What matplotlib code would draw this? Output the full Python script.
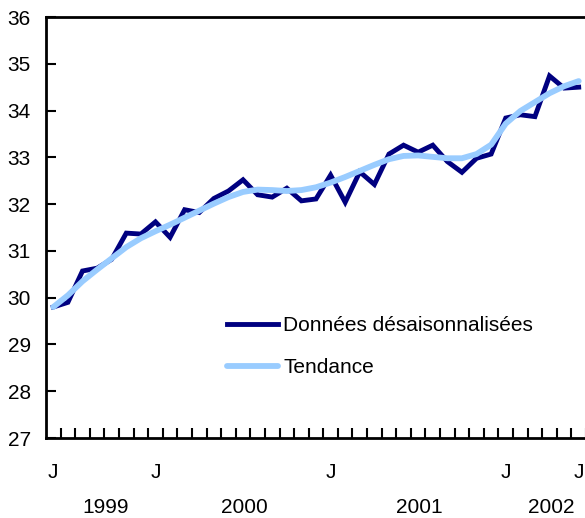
import matplotlib
matplotlib.use("Agg")
import matplotlib.pyplot as plt
import numpy as np

plt.rcParams["font.family"] = ["Liberation Sans", "DejaVu Sans"]

# ---- Donnees (juin 1999 a juin 2002) ----------------------------------------
years = [1999] * 7 + [2000] * 12 + [2001] * 12 + [2002] * 6
month_labels = ["J", "", "", "", "", "", "", "J", "", "", "", "", "",
                "", "", "", "", "", "", "J", "", "", "", "", "",
                "", "", "", "", "", "", "J", "", "", "", "", "J"]

desais = [29.80, 29.90, 30.57, 30.63, 30.82, 31.38, 31.36, 31.62, 31.29,
          31.88, 31.82, 32.12, 32.28, 32.52, 32.20, 32.15, 32.34, 32.07,
          32.11, 32.62, 32.04, 32.69, 32.42, 33.07, 33.26, 33.11, 33.26,
          32.91, 32.68, 32.98, 33.07, 33.84, 33.91, 33.87, 34.74, 34.48,
          34.50]

tendance = [29.80, 30.05, 30.35, 30.60, 30.84, 31.08, 31.27, 31.42, 31.56,
            31.71, 31.86, 32.01, 32.15, 32.26, 32.31, 32.30, 32.28, 32.30,
            32.36, 32.46, 32.58, 32.71, 32.84, 32.96, 33.03, 33.04, 33.01,
            32.98, 32.98, 33.07, 33.27, 33.72, 33.99, 34.18, 34.37, 34.52,
            34.63]

NAVY = "#000080"
LIGHT = "#99CCFF"
FS = 15

fig = plt.figure(figsize=(5.85, 5.18), dpi=100)
ax = fig.add_axes([46 / 585, 80 / 518, 540 / 585, 421 / 518])

x = np.arange(len(desais))
ax.plot(x, desais, color=NAVY, lw=3.5, solid_joinstyle="miter",
        label="Données désaisonnalisées")
ax.plot(x, tendance, color=LIGHT, lw=4.2, solid_capstyle="round",
        label="Tendance")

ax.set_xlim(-0.5, len(desais) - 0.5)
ax.set_ylim(27, 36)
ax.set_yticks(range(27, 37))

# graduations entre les mois, etiquettes au centre
ax.set_xticks(np.arange(len(desais)) + 0.5)
ax.set_xticklabels([])
ax.set_xticks(x, minor=True)
ax.set_xticklabels(month_labels, minor=True)
ax.tick_params(axis="x", which="major", direction="in", length=7, width=1.5)
ax.tick_params(axis="x", which="minor", length=0, pad=18, labelsize=FS)
ax.tick_params(axis="y", direction="in", length=7, width=1.5, labelsize=FS,
               pad=11)

for side in ("left", "bottom", "top"):
    ax.spines[side].set_linewidth(2)
ax.spines["right"].set_visible(False)

# annees sous les mois
yrs = np.array(years)
for yr in sorted(set(years)):
    pos = x[yrs == yr].mean() + 0.6
    ax.text(pos, -0.166, str(yr), transform=ax.get_xaxis_transform(),
            ha="center", va="center", fontsize=FS)

ax.legend(loc="upper left", bbox_to_anchor=(0.335, 0.29), frameon=False,
          fontsize=FS, handlelength=2.45, handletextpad=0.25, labelspacing=1.1,
          borderaxespad=0, borderpad=0)

fig.savefig("out.png", dpi=100)
